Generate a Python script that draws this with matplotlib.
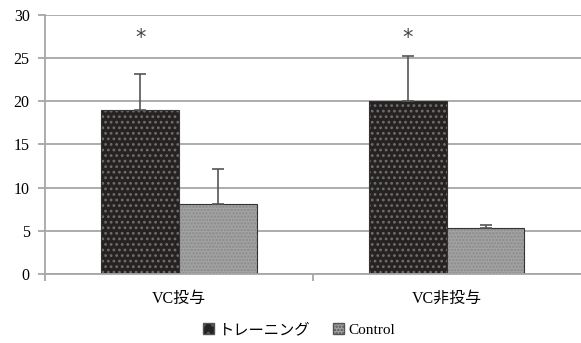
import numpy as np
import matplotlib.pyplot as plt
from matplotlib.patches import Patch

plt.rcParams['font.family'] = ['Liberation Serif', 'Noto Sans CJK JP']
plt.rcParams['hatch.linewidth'] = 1.2

# data
categories = ['VC投与', 'VC非投与']
series = ['トレーニング', 'Control']
training = [19.0, 20.0]
training_err = [4.2, 5.3]
control = [8.1, 5.3]
control_err = [4.1, 0.4]
marks = ['*', '*']
mark_y = 27.3

x = np.arange(len(categories))
w = 0.29

fig = plt.figure(figsize=(5.81, 3.43), dpi=100)
ax = fig.add_axes([0.0775, 0.2012, 0.922, 0.7551])

ax.set_axisbelow(True)
ax.yaxis.grid(True, color='#a6a6a6', lw=1.3)

# dark dotted bars
ax.bar(x - w/2, training, w, color='#262222', hatch='...', edgecolor='#6e6e6e', lw=0)
ax.bar(x - w/2, training, w, fill=False, edgecolor='#333333', lw=0.8)
# light grey bars
ax.bar(x + w/2, control, w, color='#a3a3a3', hatch='.....', edgecolor='#8a8a8a', lw=0)
ax.bar(x + w/2, control, w, fill=False, edgecolor='#333333', lw=0.8)

ax.errorbar(x - w/2, training, yerr=[np.zeros(2), training_err], fmt='none',
            ecolor='#555555', elinewidth=1.2, capsize=4.5, capthick=1.2)
ax.errorbar(x + w/2, control, yerr=[np.zeros(2), control_err], fmt='none',
            ecolor='#555555', elinewidth=1.2, capsize=4.5, capthick=1.2)

for i, m in enumerate(marks):
    ax.text(x[i] - w/2, mark_y, m, ha='center', va='center',
            fontsize=15, color='#444444', family='DejaVu Sans')

ax.set_xlim(-0.5, len(categories) - 0.5)
ax.set_ylim(0, 30)
ax.set_yticks(np.arange(0, 31, 5))
ax.set_xticks(x)
ax.set_xticklabels(categories, fontsize=11.5)
ax.set_xticks(np.arange(-0.5, len(categories) - 1), minor=True)
ax.tick_params(axis='x', which='major', length=0, pad=12)
ax.tick_params(axis='x', which='minor', length=5, color='#a6a6a6', width=1.3)
ax.tick_params(axis='y', length=5, color='#a6a6a6', width=1.3, labelsize=11.5, pad=6)

for s in ['top', 'right']:
    ax.spines[s].set_visible(False)
for s in ['left', 'bottom']:
    ax.spines[s].set_color('#a6a6a6')
    ax.spines[s].set_linewidth(1.3)

handles = [Patch(facecolor='#262222', hatch='..', edgecolor='#555555', label=series[0]),
           Patch(facecolor='#a3a3a3', hatch='.....', edgecolor='#555555', label=series[1])]
fig.legend(handles=handles, loc='center', bbox_to_anchor=(0.515, 0.038), ncol=2,
           frameon=False, fontsize=11, handlelength=0.7, handleheight=0.7,
           handletextpad=0.3, columnspacing=1.5)

fig.savefig('out.png', dpi=100)
